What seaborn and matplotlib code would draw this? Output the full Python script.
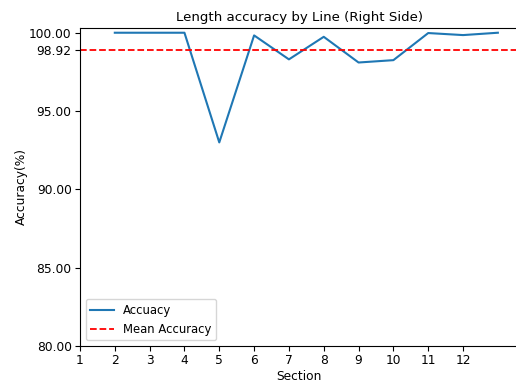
import numpy as np
import pandas as pd
import matplotlib
matplotlib.use("Agg")
import matplotlib.pyplot as plt
import seaborn as sns
from matplotlib.ticker import FormatStrFormatter

# Values
sections = [2, 3, 4, 5, 6, 7, 8, 9, 10, 11, 12, 13]
accuracy = [100.0, 100.0, 100.0, 93.0, 99.83, 98.3, 99.74, 98.1, 98.25, 99.98, 99.85, 100.0]
x_ticks = list(range(1, 13))

df = pd.DataFrame({'Section': sections, 'Accuracy': accuracy})
mean_acc = float(np.mean(accuracy))

plt.rcParams['font.size'] = 8.8
plt.rcParams['xtick.major.pad'] = 2.5
plt.rcParams['ytick.major.pad'] = 2.5
fig = plt.figure(figsize=(5.16, 3.85), dpi=100)
ax = fig.add_axes([0.155, 0.101, 0.849, 0.827])

sns.lineplot(data=df, x='Section', y='Accuracy', ax=ax, color='#1f77b4',
             linewidth=1.5, label='Accuacy')
ax.axhline(mean_acc, color='red', linestyle='--', linewidth=1.3, label='Mean Accuracy')

ax.set_xlim(1, 13.58)
ax.set_ylim(80, 100.32)
ax.set_xticks(x_ticks)
ax.set_yticks([80, 85, 90, 95, round(mean_acc, 2), 100])
ax.yaxis.set_major_formatter(FormatStrFormatter('%.2f'))

ax.set_title('Length accuracy by Line (Right Side)', fontsize=9.6, pad=5)
ax.set_xlabel('Section', labelpad=2)
ax.set_ylabel('Accuracy(%)', labelpad=1)
ax.legend(loc='lower left', fontsize=8.4)

fig.savefig('out.png', dpi=100)
